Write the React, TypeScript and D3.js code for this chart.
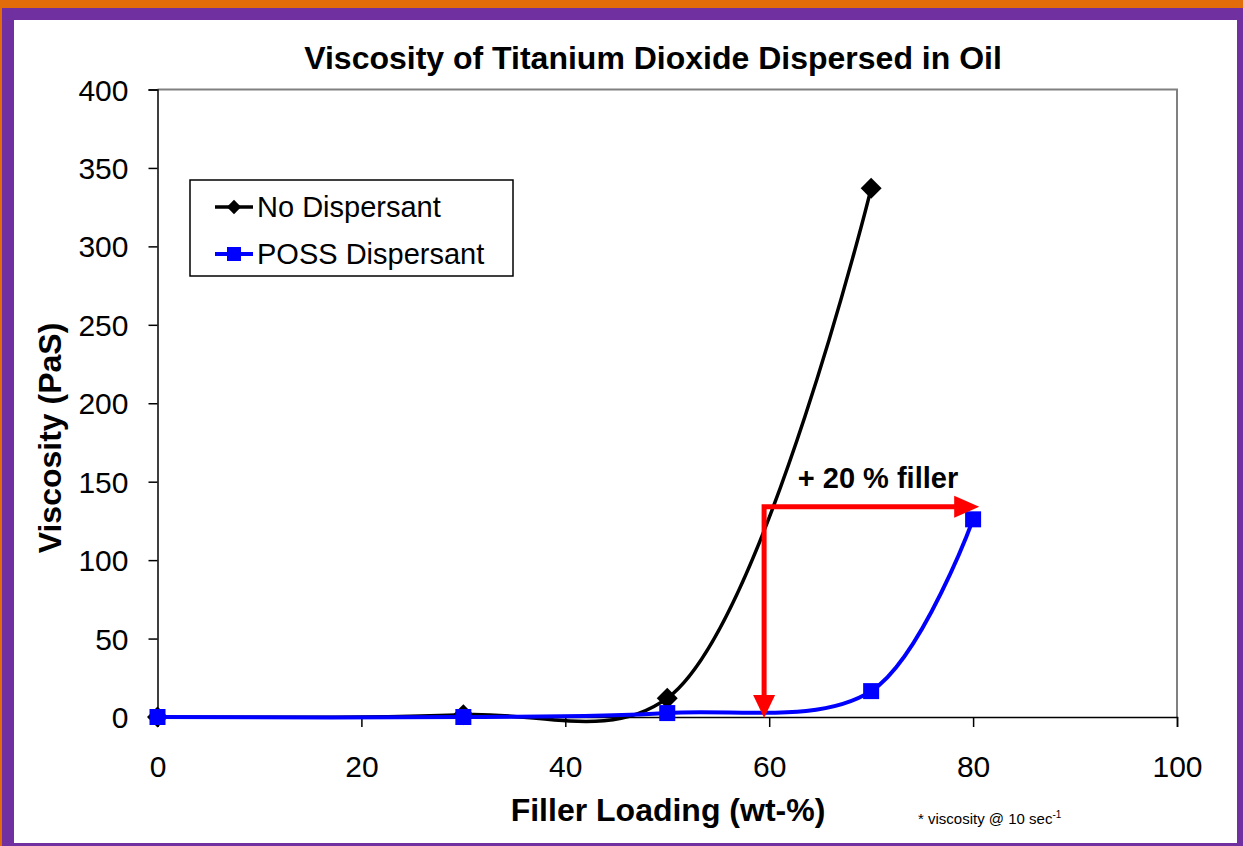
import React, { useEffect, useRef } from 'react';
import * as d3 from 'd3';

// data
const fillerNoDisp = [0, 30, 50, 70];
const viscNoDisp = [0, 1.5, 12, 337];
const fillerPoss = [0, 30, 50, 70, 80];
const viscPoss = [0, 0, 2.5, 16.5, 126];
const xTicks = [0, 20, 40, 60, 80, 100];
const yTicks = [0, 50, 100, 150, 200, 250, 300, 350, 400];

// "+20 % filler" arrow: from the start point down to zero, and across to 80
const arrowFrom = { x: 59.5, y: 134 };
const arrowTo = { x: 80.5, y: 0 };

const W = 1243;
const H = 846;
const FONT = 'Arial, "Liberation Sans", sans-serif';

const App: React.FC = () => {
  const ref = useRef<SVGSVGElement>(null);

  useEffect(() => {
    draw();
  }, []);

  const draw = () => {
    const svg = d3.select(ref.current);
    svg.selectAll('*').remove();

    // frame
    svg.append('rect').attr('x', 0).attr('y', 0).attr('width', W).attr('height', H).attr('fill', '#e36c0a');
    svg.append('rect').attr('x', 2).attr('y', 8).attr('width', W - 2).attr('height', H - 8).attr('fill', '#7030a0');
    svg.append('rect').attr('x', 14).attr('y', 20).attr('width', 1223).attr('height', 823).attr('fill', '#fff');

    const x = d3.scaleLinear().domain([0, 100]).range([157.5, 1177]);
    const y = d3.scaleLinear().domain([0, 400]).range([717, 89.5]);

    const g = svg.append('g');

    // plot border top / right
    g.append('path')
      .attr('d', `M${x(0)},${y(400)}H${x(100)}V${y(0)}`)
      .attr('fill', 'none')
      .attr('stroke', '#808080')
      .attr('stroke-width', 2);

    // axes
    const xAxis = g.append('g')
      .attr('transform', `translate(0,${y(0)})`)
      .call(d3.axisBottom(x).tickValues(xTicks).tickSize(10).tickPadding(29).tickFormat(d3.format('d')));
    const yAxis = g.append('g')
      .attr('transform', `translate(${x(0)},0)`)
      .call(d3.axisLeft(y).tickValues(yTicks).tickSize(9).tickPadding(20).tickFormat(d3.format('d')));
    [xAxis, yAxis].forEach(a => {
      a.select('.domain').attr('stroke', '#000').attr('stroke-width', 1.5);
      a.selectAll('.tick line').attr('stroke', '#000').attr('stroke-width', 1.5);
      a.selectAll('.tick text')
        .attr('fill', '#000')
        .style('font-family', FONT)
        .style('font-size', '30px');
    });
    yAxis.selectAll('.tick text').attr('dy', '0.35em');

    // Excel-style smoothed lines
    const line = d3.line<[number, number]>()
      .x(d => x(d[0]))
      .y(d => y(d[1]))
      .curve(d3.curveCatmullRom.alpha(0.5));

    const noDisp: [number, number][] = fillerNoDisp.map((f, i) => [f, viscNoDisp[i]]);
    const poss: [number, number][] = fillerPoss.map((f, i) => [f, viscPoss[i]]);

    g.append('path').attr('d', line(noDisp)).attr('fill', 'none').attr('stroke', '#000').attr('stroke-width', 3.5);
    g.selectAll('.dia')
      .data(noDisp)
      .enter()
      .append('path')
      .attr('class', 'dia')
      .attr('d', d3.symbol(d3.symbolDiamond2, 280)())
      .attr('transform', d => `translate(${x(d[0])},${y(d[1])})`)
      .attr('fill', '#000');

    g.append('path').attr('d', line(poss)).attr('fill', 'none').attr('stroke', '#0000ff').attr('stroke-width', 4);
    g.selectAll('.sq')
      .data(poss)
      .enter()
      .append('rect')
      .attr('class', 'sq')
      .attr('x', d => x(d[0]) - 8)
      .attr('y', d => y(d[1]) - 8)
      .attr('width', 16)
      .attr('height', 16)
      .attr('fill', '#0000ff');

    // red arrows
    const red = '#ff0000';
    const ax = x(arrowFrom.x);
    const ay = y(arrowFrom.y);
    g.append('path')
      .attr('d', `M${ax},${ay}V${y(arrowTo.y) - 18}M${ax - 2.5},${ay}H${x(arrowTo.x) - 20}`)
      .attr('stroke', red)
      .attr('stroke-width', 5)
      .attr('fill', 'none');
    g.append('path')
      .attr('d', `M${ax - 11},${y(arrowTo.y) - 22}L${ax + 11},${y(arrowTo.y) - 22}L${ax},${y(arrowTo.y) + 1}Z`)
      .attr('fill', red);
    g.append('path')
      .attr('d', `M${x(arrowTo.x) - 24},${ay - 11}L${x(arrowTo.x) - 24},${ay + 11}L${x(arrowTo.x) + 1},${ay}Z`)
      .attr('fill', red);
    g.append('text')
      .attr('x', 878)
      .attr('y', 488)
      .attr('text-anchor', 'middle')
      .style('font-family', FONT)
      .style('font-weight', 'bold')
      .style('font-size', '29px')
      .text('+ 20 % filler');

    // titles
    svg.append('text')
      .attr('x', 653)
      .attr('y', 69)
      .attr('text-anchor', 'middle')
      .style('font-family', FONT)
      .style('font-weight', 'bold')
      .style('font-size', '32px')
      .text('Viscosity of Titanium Dioxide Dispersed in Oil');
    svg.append('text')
      .attr('x', 668)
      .attr('y', 821)
      .attr('text-anchor', 'middle')
      .style('font-family', FONT)
      .style('font-weight', 'bold')
      .style('font-size', '32px')
      .text('Filler Loading (wt-%)');
    svg.append('text')
      .attr('transform', 'translate(61,438) rotate(-90)')
      .attr('text-anchor', 'middle')
      .style('font-family', FONT)
      .style('font-weight', 'bold')
      .style('font-size', '32px')
      .text('Viscosity (PaS)');

    // footnote
    const foot = svg.append('text')
      .attr('x', 918)
      .attr('y', 824)
      .style('font-family', FONT)
      .style('font-size', '15px');
    foot.append('tspan').text('* viscosity @ 10 sec');
    foot.append('tspan').attr('dy', -6).style('font-size', '10px').text('-1');

    // legend
    const leg = svg.append('g').attr('transform', 'translate(190,180)');
    leg.append('rect')
      .attr('width', 323)
      .attr('height', 96)
      .attr('fill', '#fff')
      .attr('stroke', '#000')
      .attr('stroke-width', 1.5);
    const items = [
      { label: 'No Dispersant', color: '#000', kind: 'dia' },
      { label: 'POSS Dispersant', color: '#0000ff', kind: 'sq' },
    ];
    items.forEach((it, i) => {
      const ly = 27 + i * 47;
      leg.append('line')
        .attr('x1', 25).attr('x2', 63).attr('y1', ly).attr('y2', ly)
        .attr('stroke', it.color).attr('stroke-width', it.kind === 'sq' ? 4 : 3.5);
      if (it.kind === 'dia') {
        leg.append('path')
          .attr('d', d3.symbol(d3.symbolDiamond2, 130)())
          .attr('transform', `translate(44,${ly})`)
          .attr('fill', it.color);
      } else {
        leg.append('rect').attr('x', 37).attr('y', ly - 7).attr('width', 14).attr('height', 14).attr('fill', it.color);
      }
      leg.append('text')
        .attr('x', 67)
        .attr('y', ly)
        .attr('dy', '0.35em')
        .style('font-family', FONT)
        .style('font-size', '29px')
        .text(it.label);
    });
  };

  return (
    <svg ref={ref} width={W} height={H} style={{ display: 'block', position: 'absolute', left: 0, top: 0 }} />
  );
};

export default App;
